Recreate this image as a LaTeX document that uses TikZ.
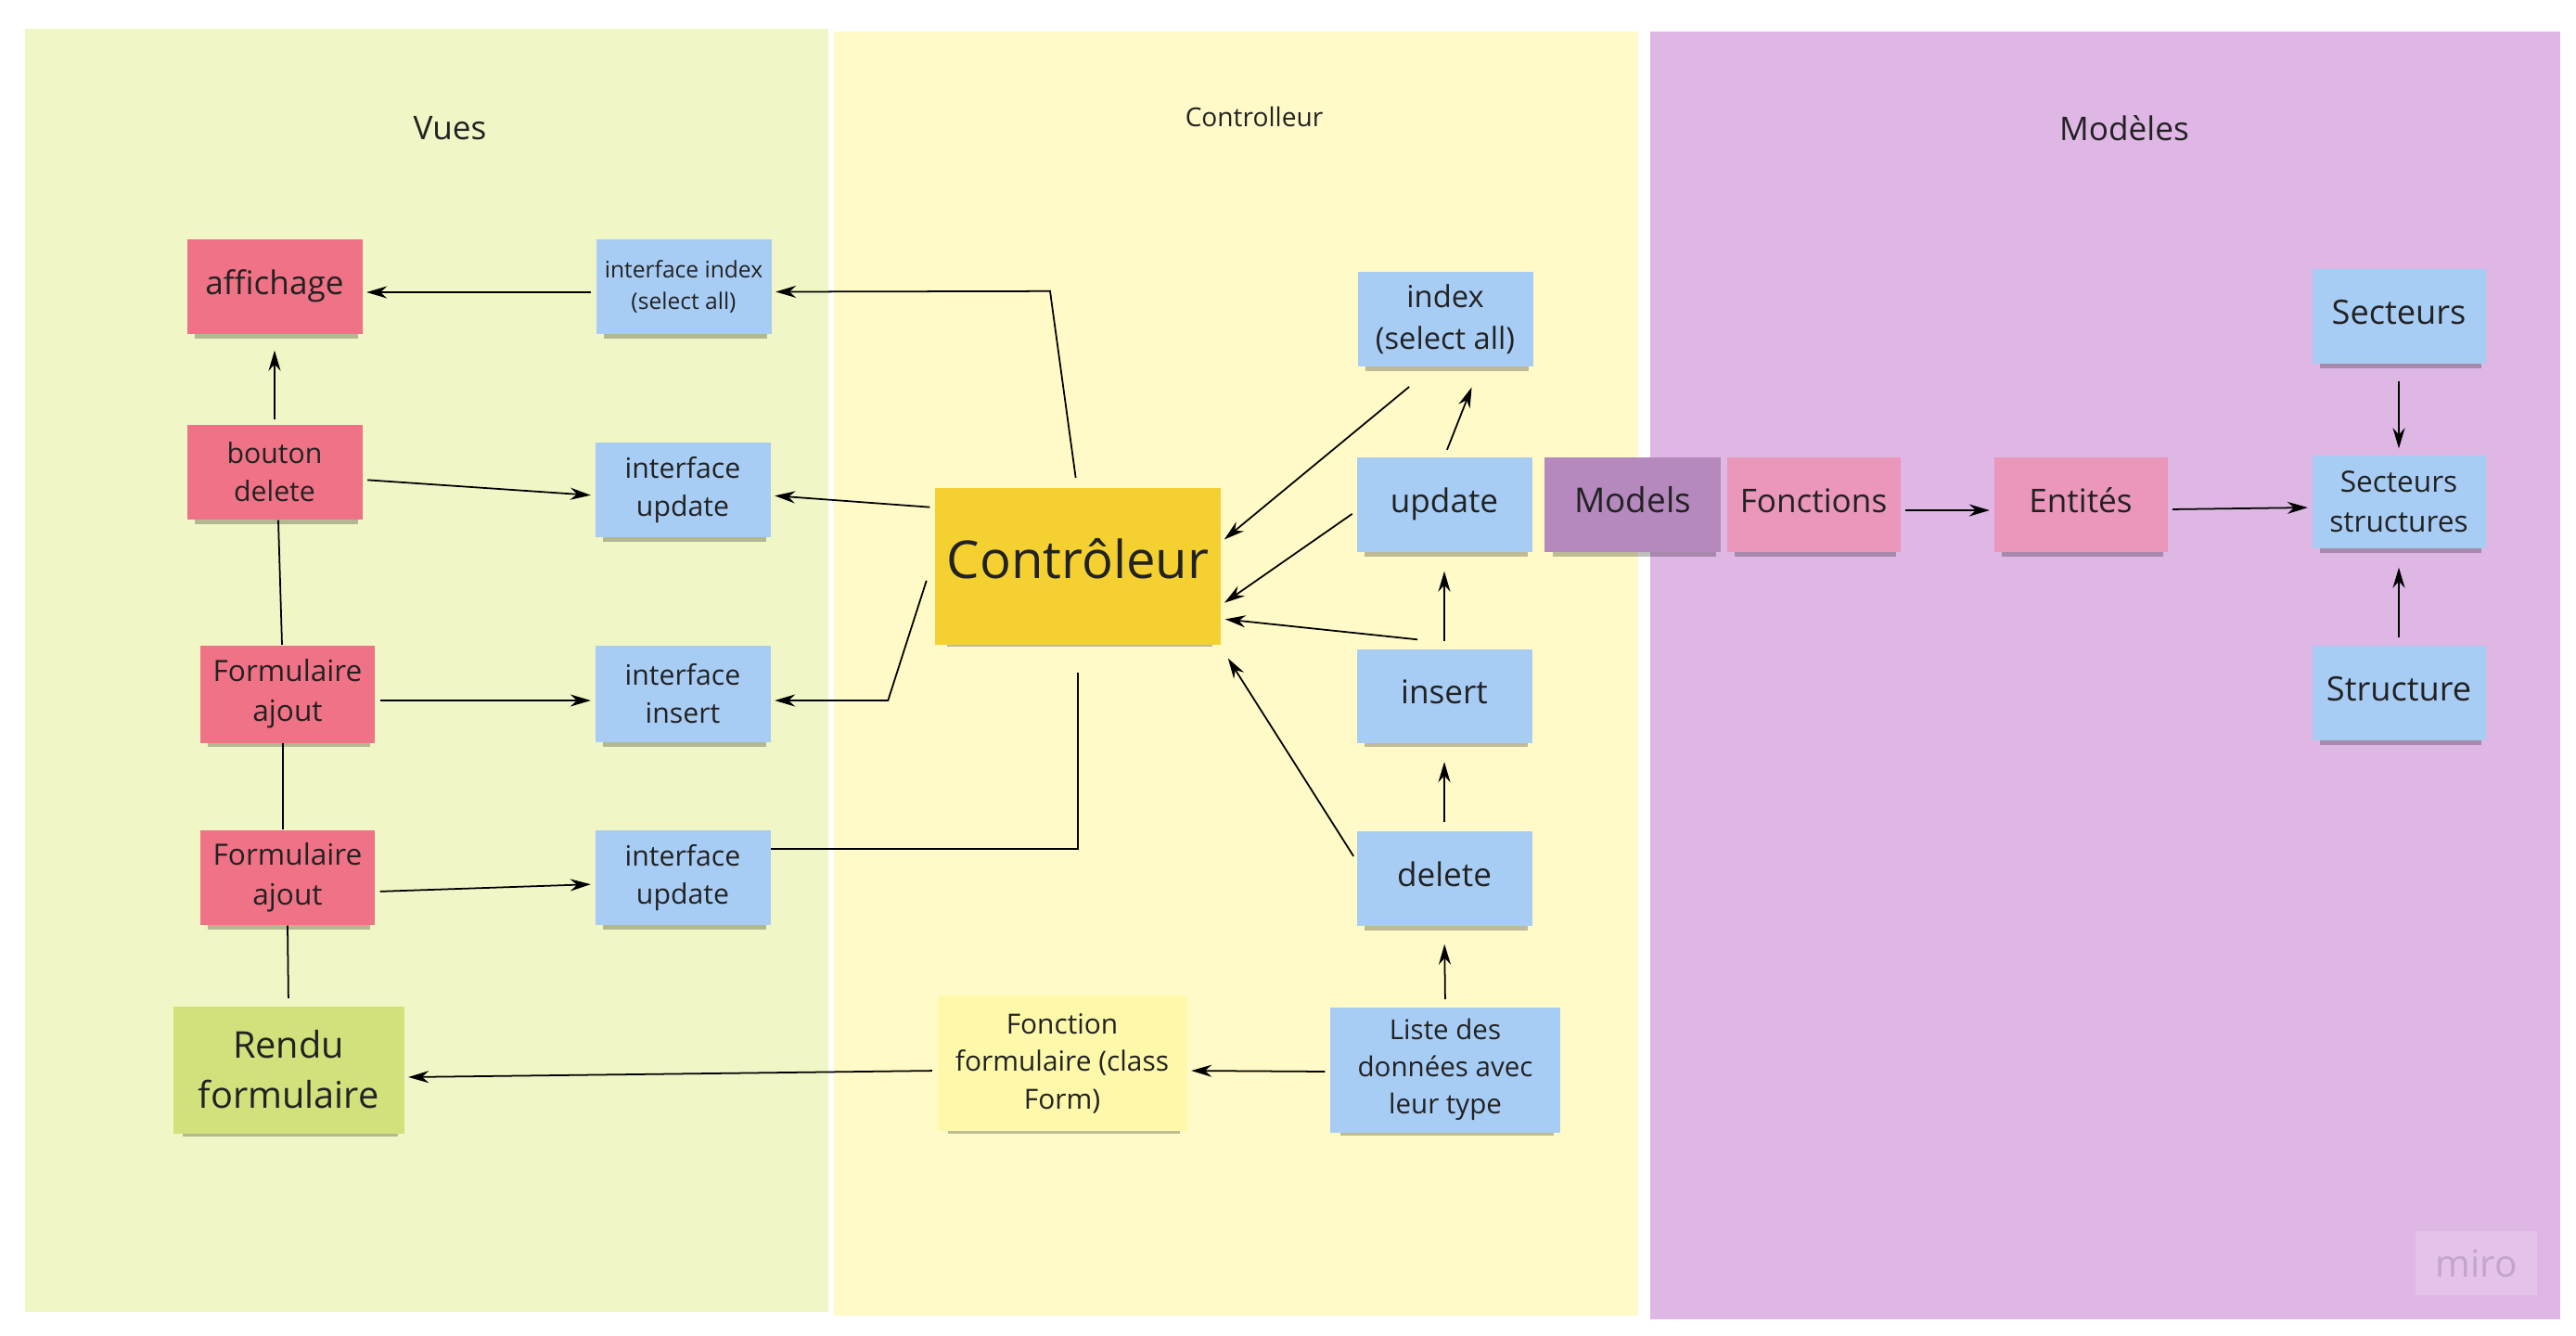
\documentclass[tikz,border=0pt]{standalone}
\usepackage{fontspec}
\setmainfont{Open Sans}
\usetikzlibrary{arrows.meta, shadows}

\definecolor{vuebg}{HTML}{F0F6C5}
\definecolor{ctrlbg}{HTML}{FFFAC7}
\definecolor{modbg}{HTML}{DEB7E5}
\definecolor{rednote}{HTML}{F07286}
\definecolor{bluenote}{HTML}{A8CDF5}
\definecolor{goldnote}{HTML}{F4D130}
\definecolor{palenote}{HTML}{FEF8AA}
\definecolor{limenote}{HTML}{D2E17C}
\definecolor{violetnote}{HTML}{B588BE}
\definecolor{pinknote}{HTML}{EA97BB}
\definecolor{mirobg}{HTML}{E4C2E9}
\definecolor{miroink}{HTML}{C2A5CB}
\definecolor{ink}{HTML}{222222}

\newcommand{\fsz}[1]{\fontsize{#1}{\fpeval{1.36*#1}}\selectfont}

\begin{document}
\begin{tikzpicture}
\tikzstyle{every node}=[text=ink]
\tikzstyle{note}=[minimum width=1.89cm, minimum height=1.02cm, inner sep=1pt, align=center,
    drop shadow={shadow xshift=0.02cm, shadow yshift=-0.09cm, shadow scale=0.93, opacity=0.25, fill=black}]
\tikzset{un/.style={font=\fsz{#1}, text height={0.74pt*#1}, text depth={0.26pt*#1}}}
\tikzstyle{arr}=[line width=0.5pt, -{Stealth[length=0.22cm, width=0.13cm]}, shorten <=0.05cm, shorten >=0.04cm]
\tikzstyle{lien}=[line width=0.5pt]

\useasboundingbox (0, 0) rectangle (27.77, -14.39);
\fill[vuebg] (0.27, -0.31) rectangle (8.93, -14.14); % Vues
\fill[ctrlbg] (8.99, -0.34) rectangle (17.66, -14.18); % Controlleur
\fill[modbg] (17.79, -0.34) rectangle (27.60, -14.22); % Modeles

\node (vues) at (4.85, -1.38) {\fsz{10}Vues};
\node (ctrltitle) at (13.52, -1.26) {\fsz{8}Controlleur};
\node (modtitle) at (22.90, -1.38) {\fsz{10}Modèles};

% vues
\node[note, fill=rednote, un=10] (affichage) at (2.96, -3.09) {affichage};
\node[note, fill=bluenote, font=\fsz{7}] (idxview) at (7.37, -3.09) {interface index\\(select all)};
\node[note, fill=rednote, font=\fsz{8.6}] (btndel) at (2.96, -5.09) {bouton\\delete};
\node[note, fill=bluenote, font=\fsz{8.6}] (updview) at (7.36, -5.28) {interface\\update};
\node[note, fill=rednote, font=\fsz{9}, minimum width=1.88cm, minimum height=1.05cm] (formA) at (3.10, -7.48) {Formulaire\\ajout};
\node[note, fill=bluenote, font=\fsz{8.6}, minimum height=1.04cm] (insview) at (7.36, -7.48) {interface\\insert};
\node[note, fill=rednote, font=\fsz{9}, minimum width=1.88cm] (formB) at (3.10, -9.46) {Formulaire\\ajout};
\node[note, fill=bluenote, font=\fsz{8.6}] (updviewB) at (7.36, -9.46) {interface\\update};
\node[note, fill=limenote, font=\fsz{11.3}, minimum width=2.49cm, minimum height=1.37cm] (rendu) at (3.11, -11.53) {\raisebox{0.05cm}{\parbox{2.4cm}{\centering Rendu\\formulaire}}};

\draw[arr] ([yshift=-0.06cm]idxview.west) -- ([yshift=-0.06cm]affichage.east);
\draw[arr, shorten >=0.17cm] (btndel.north) -- (affichage.south);
\draw[arr] ([yshift=-0.08cm]btndel.east) -- ([yshift=-0.06cm]updview.west);
\draw[lien] ([xshift=-0.06cm]formA.north) -- ([xshift=0.04cm]btndel.south);
\draw[arr] ([yshift=-0.07cm]formA.east) -- ([yshift=-0.07cm]insview.west);
\draw[lien] ([xshift=-0.05cm]formB.north) -- ([xshift=-0.05cm]formA.south);
\draw[arr] ([yshift=-0.15cm]formB.east) -- ([yshift=-0.07cm]updviewB.west);
\draw[lien, shorten >=0.08cm] (formB.south) -- (rendu.north);

% controlleur
\node[note, fill=goldnote, un=16, minimum width=3.08cm, minimum height=1.69cm] (ctrl) at (11.62, -6.10) {Contrôleur};
\node[note, fill=palenote, font=\fsz{8.5}, minimum width=2.69cm, minimum height=1.46cm] (fonction) at (11.45, -11.46) {Fonction\\formulaire (class\\Form)};
\node[note, fill=bluenote, font=\fsz{9.3}] (index) at (15.58, -3.44) {index\\(select all)};
\node[note, fill=bluenote, un=10] (update) at (15.57, -5.44) {update};
\node[note, fill=bluenote, un=10, minimum height=1.01cm] (insert) at (15.57, -7.50) {insert};
\node[note, fill=bluenote, un=10] (delete) at (15.57, -9.47) {delete};
\node[note, fill=bluenote, font=\fsz{8.4}, minimum width=2.48cm, minimum height=1.35cm] (liste) at (15.58, -11.53) {Liste des\\données avec\\leur type};

\draw[arr, shorten <=0.1cm] ([xshift=-0.01cm]ctrl.north) -- ++(-0.29, 2.11) -- ([yshift=-0.055cm]idxview.east);
\draw[arr] ([yshift=0.63cm]ctrl.west) -- ([yshift=-0.06cm]updview.east);
\draw[arr] ([xshift=-0.07cm, yshift=-0.11cm]ctrl.west) -- ++(-0.43, -1.34) -- ([yshift=-0.07cm]insview.east);
\draw[lien] ([yshift=-0.3cm]ctrl.south) |- ([yshift=0.31cm]updviewB.east);
\draw[arr] ([xshift=-0.35cm, yshift=-0.18cm]index.south) -- ([yshift=0.26cm]ctrl.east);
\draw[arr, shorten <=0.08cm] (update.north) -- ([xshift=0.30cm, yshift=-0.18cm]index.south);
\draw[arr] ([yshift=-0.07cm]update.west) -- ([yshift=-0.42cm]ctrl.east);
\draw[arr] ([xshift=-0.24cm, yshift=0.09cm]insert.north) -- ([yshift=-0.57cm]ctrl.east);
\draw[arr, shorten <=0.08cm, shorten >=0.2cm] (insert.north) -- (update.south);
\draw[arr] ([yshift=0.2cm]delete.west) -- ([xshift=0.05cm, yshift=-0.11cm]ctrl.south east);
\draw[arr, shorten <=0.09cm, shorten >=0.2cm] (delete.north) -- (insert.south);
\draw[arr, shorten <=0.08cm, shorten >=0.19cm] (liste.north) -- (delete.south);
\draw[arr] ([yshift=-0.02cm]liste.west) -- ([yshift=-0.08cm]fonction.east);
\draw[arr] ([yshift=-0.08cm]fonction.west) -- ([yshift=-0.08cm]rendu.east);

% modeles
\node[note, fill=violetnote, un=10.5, minimum width=1.90cm] (models) at (17.60, -5.44) {Models};
\node[note, fill=pinknote, un=10, minimum width=1.87cm] (fonctions) at (19.55, -5.44) {Fonctions};
\node[note, fill=pinknote, un=10, minimum width=1.87cm] (entites) at (22.43, -5.44) {Entités};
\node[note, fill=bluenote, un=10.3, minimum width=1.87cm] (secteurs) at (25.86, -3.41) {Secteurs};
\node[note, fill=bluenote, font=\fsz{9}, minimum width=1.87cm, minimum height=1.00cm] (secstruct) at (25.86, -5.41) {Secteurs\\structures};
\node[note, fill=bluenote, un=10.3, minimum width=1.87cm] (structure) at (25.86, -7.47) {Structure};

\draw[arr] ([yshift=-0.06cm]fonctions.east) -- ([yshift=-0.06cm]entites.west);
\draw[arr] ([yshift=-0.05cm]entites.east) -- ([yshift=-0.06cm]secstruct.west);
\draw[arr, shorten <=0.18cm, shorten >=0.07cm] (secteurs.south) -- (secstruct.north);
\draw[arr, shorten <=0.08cm, shorten >=0.2cm] (structure.north) -- (secstruct.south);

\node[fill=mirobg, text=miroink, font=\fsz{11.5}, minimum width=1.31cm, minimum height=0.69cm] (miro) at (26.695, -13.615) {miro};

\end{tikzpicture}
\end{document}
